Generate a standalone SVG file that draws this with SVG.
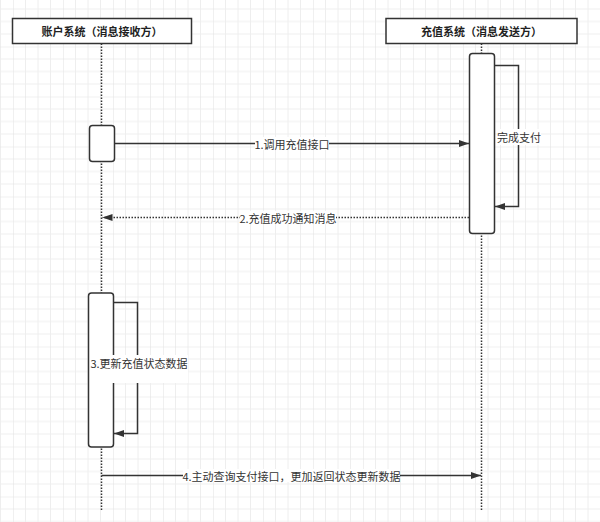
<svg xmlns="http://www.w3.org/2000/svg" width="600" height="522" viewBox="0 0 600 522">
<style>
.ln{fill:none;stroke:#333;stroke-width:1.5}
.dot{fill:none;stroke:#333;stroke-width:1.5;stroke-dasharray:1.5 1.5}
.box{fill:#fff;stroke:#333;stroke-width:1.5}
.hd{font-family:"Noto Sans CJK SC","Noto Sans",sans-serif;font-size:11px;font-weight:bold;fill:#222;text-anchor:middle;dominant-baseline:central}
.lb{font-family:"Noto Sans CJK SC","Noto Sans",sans-serif;font-size:11px;fill:#333;text-anchor:middle;dominant-baseline:central}
.bg{fill:#fff}
</style>
<defs>
<pattern id="grid" x="13" y="-3.5" width="50" height="50" patternUnits="userSpaceOnUse">
<path d="M12.5,0V50M25,0V50M37.5,0V50M0,12.5H50M0,25H50M0,37.5H50" stroke="#eeeeee" stroke-width="1" fill="none"/>
<path d="M0,0V50M0,0H50" stroke="#e2e2e2" stroke-width="1" fill="none"/>
</pattern>
<marker id="ah" viewBox="0 0 10 8" refX="10" refY="4" markerWidth="10" markerHeight="8" markerUnits="userSpaceOnUse" orient="auto">
<path d="M0,0.5L10,4L0,7.5z" fill="#333"/>
</marker>
</defs>
<rect width="600" height="522" fill="#fff"/>
<rect width="600" height="522" fill="url(#grid)"/>
<g id="lifelines">
<line class="dot" x1="101.5" y1="43.5" x2="101.5" y2="510"/>
<line class="dot" x1="481.5" y1="43.5" x2="481.5" y2="510"/>
</g>
<g id="acct">
<rect class="box" x="12.5" y="18.5" width="179" height="25"/>
<text class="hd" x="102" y="31">账户系统（消息接收方）</text>
</g>
<g id="recharge">
<rect class="box" x="386" y="18.5" width="191" height="25"/>
<text class="hd" x="481.5" y="31">充值系统（消息发送方）</text>
</g>
<g id="act-right">
<rect class="box" x="469.5" y="53.5" width="25" height="180" rx="3"/>
</g>
<g id="act-left1">
<rect class="box" x="89.5" y="125.5" width="25" height="36" rx="3"/>
</g>
<g id="act-left2">
<rect class="box" x="88.5" y="293" width="25" height="154" rx="3"/>
</g>
<g id="connectors">
<line class="ln" x1="114.5" y1="143.5" x2="469" y2="143.5" marker-end="url(#ah)"/>
<rect class="bg" x="255" y="137" width="74" height="13"/>
<text class="lb" x="292" y="143.5">1.调用充值接口</text>

<path class="ln" d="M494.5,65.5H518.5V206.5H495" marker-end="url(#ah)"/>
<rect class="bg" x="497" y="129" width="44" height="16"/>
<text class="lb" x="519" y="137">完成支付</text>

<line class="dot" x1="469" y1="217.5" x2="102.5" y2="217.5" marker-end="url(#ah)"/>
<rect class="bg" x="240" y="211" width="96" height="13"/>
<text class="lb" x="288" y="217.5">2.充值成功通知消息</text>

<path class="ln" d="M113.5,302.5H137.5V433.5H114" marker-end="url(#ah)"/>
<rect class="bg" x="90" y="355" width="98" height="28"/>
<text class="lb" x="139" y="363">3.更新充值状态数据</text>

<line class="ln" x1="101.5" y1="475.5" x2="481" y2="475.5" marker-end="url(#ah)"/>
<rect class="bg" x="183" y="469" width="217" height="13"/>
<text class="lb" x="291.5" y="475.5">4.主动查询支付接口，更加返回状态更新数据</text>
</g>
</svg>
